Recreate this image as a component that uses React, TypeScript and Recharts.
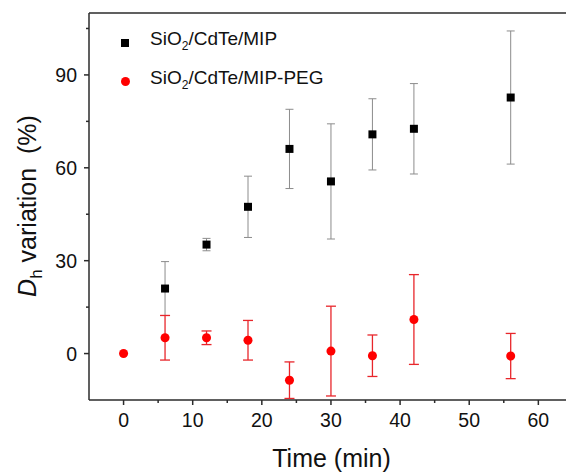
import {
  ErrorBar,
  Label,
  Legend,
  ReferenceLine,
  Scatter,
  ScatterChart,
  XAxis,
  YAxis,
} from "recharts"

const mipTimes = [6, 12, 18, 24, 30, 36, 42, 56]
const mipValues = [21.0, 35.2, 47.4, 66.1, 55.6, 70.8, 72.6, 82.7]
const mipErrors = [8.7, 2.0, 9.9, 12.8, 18.6, 11.5, 14.6, 21.5]

const pegTimes = [0, 6, 12, 18, 24, 30, 36, 42, 56]
const pegValues = [0, 5.1, 5.1, 4.3, -8.6, 0.8, -0.7, 11.0, -0.8]
const pegErrors = [0, 7.2, 2.2, 6.4, 5.9, 14.5, 6.7, 14.5, 7.3]

const xTicks = [0, 5, 10, 15, 20, 25, 30, 35, 40, 45, 50, 55, 60]
const yTicks = [0, 15, 30, 45, 60, 75, 90, 105]

const mipData = mipTimes.map((t, i) => ({ x: t, y: mipValues[i], err: mipErrors[i] }))
const pegData = pegTimes.map((t, i) => ({ x: t, y: pegValues[i], err: pegErrors[i] }))

const AXIS = "#2b2b2b"
const FONT = "'Liberation Sans', Arial, sans-serif"

const XTick = (props: any) => {
  const { x, y, payload } = props
  const major = payload.value % 10 === 0
  return (
    <g>
      <line x1={x} x2={x} y1={y} y2={y + (major ? 5 : 3)} stroke={AXIS} strokeWidth={1.5} />
      {major && (
        <text x={x} y={y + 27} textAnchor="middle" fontSize={19.5} fill="#111" fontFamily={FONT}>
          {payload.value}
        </text>
      )}
    </g>
  )
}

const YTick = (props: any) => {
  const { x, y, payload } = props
  const major = payload.value % 30 === 0
  return (
    <g>
      <line x1={x} x2={x - (major ? 5 : 3)} y1={y} y2={y} stroke={AXIS} strokeWidth={1.5} />
      {major && (
        <text x={x - 12} y={y + 7} textAnchor="end" fontSize={19.5} fill="#111" fontFamily={FONT}>
          {payload.value}
        </text>
      )}
    </g>
  )
}

const YTitle = () => (
  <text
    transform="translate(36, 206) rotate(-90)"
    textAnchor="middle"
    fontSize={25}
    fill="#111"
    fontFamily={FONT}
  >
    <tspan fontStyle="italic">D</tspan>
    <tspan fontSize={17} dy={6}>h</tspan>
    <tspan dy={-6}>{" variation\u00a0\u00a0(%)"}</tspan>
  </text>
)

const XTitle = (props: any) => {
  const { viewBox } = props
  return (
    <text
      x={viewBox.x + viewBox.width / 2 + 4}
      y={467}
      textAnchor="middle"
      fontSize={25}
      fill="#111"
      fontFamily={FONT}
    >
      Time (min)
    </text>
  )
}

const LegendBox = () => (
  <div style={{ fontFamily: FONT, fontSize: 19, color: "#111", lineHeight: "31px" }}>
    <div style={{ display: "flex", alignItems: "center" }}>
      <span style={{ width: 8, height: 8, background: "#000", display: "inline-block", margin: "0 21px 0 3px" }} />
      <span>
        SiO<sub style={{ fontSize: 12, verticalAlign: "-5px" }}>2</sub>/CdTe/MIP
      </span>
    </div>
    <div style={{ display: "flex", alignItems: "center" }}>
      <span
        style={{
          width: 9,
          height: 9,
          borderRadius: "50%",
          background: "#ff0000",
          display: "inline-block",
          margin: "0 20px 0 3px",
        }}
      />
      <span>
        SiO<sub style={{ fontSize: 12, verticalAlign: "-5px" }}>2</sub>/CdTe/MIP-PEG
      </span>
    </div>
  </div>
)

export default function App() {
  return (
    <div style={{ position: "absolute", left: 0, top: 0, background: "#fff" }}>
      <ScatterChart width={566} height={474} margin={{ top: 13, right: 0, bottom: 0, left: 0 }}>
        <XAxis
          type="number"
          dataKey="x"
          domain={[-5, 64]}
          ticks={xTicks}
          interval={0}
          allowDataOverflow
          height={74}
          stroke={AXIS}
          strokeWidth={1.5}
          tickSize={0}
          tickMargin={0}
          tick={<XTick />}
        >
          <Label content={<XTitle />} />
        </XAxis>
        <YAxis
          type="number"
          dataKey="y"
          domain={[-15, 110]}
          ticks={yTicks}
          interval={0}
          allowDataOverflow
          width={89}
          stroke={AXIS}
          strokeWidth={1.5}
          tickSize={0}
          tickMargin={0}
          tick={<YTick />}
        >
          <Label content={<YTitle />} />
        </YAxis>
        <ReferenceLine y={110} stroke={AXIS} strokeWidth={1.5} ifOverflow="visible" />
        <Legend
          layout="vertical"
          align="center"
          verticalAlign="middle"
          content={<LegendBox />}
          wrapperStyle={{ left: 118, top: 23, width: 280 }}
        />
        <Scatter name="SiO2/CdTe/MIP" data={mipData} fill="#000" shape="square" isAnimationActive={false}>
          <ErrorBar dataKey="err" direction="y" width={4} stroke="#8c8c8c" strokeWidth={1} isAnimationActive={false} />
        </Scatter>
        <Scatter name="SiO2/CdTe/MIP-PEG" data={pegData} fill="#ff0000" shape="circle" isAnimationActive={false}>
          <ErrorBar dataKey="err" direction="y" width={5} stroke="#e8262b" strokeWidth={1.3} isAnimationActive={false} />
        </Scatter>
      </ScatterChart>
    </div>
  )
}
